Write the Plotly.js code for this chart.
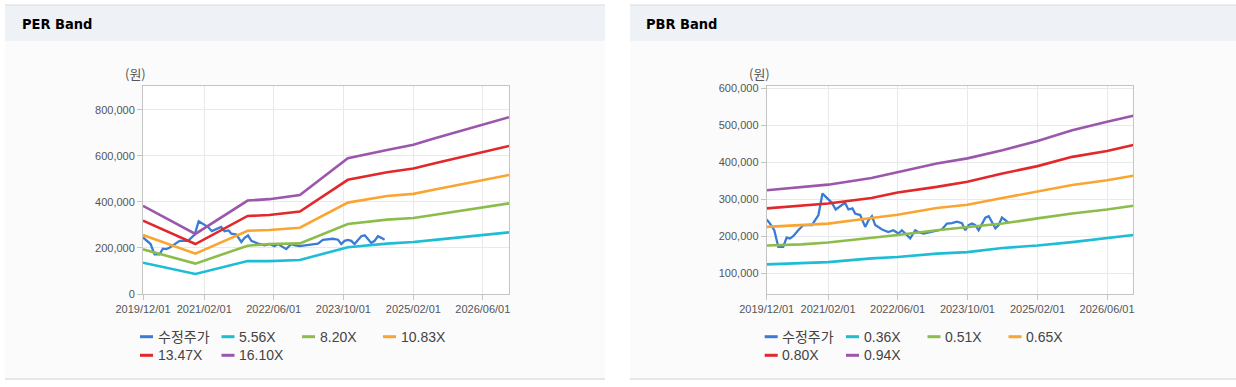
<!DOCTYPE html>
<html><head><meta charset="utf-8">
<script src="https://cdn.plot.ly/plotly-3.0.1.min.js"></script>
<style>html,body{margin:0;padding:0;background:#fff;}#chart{width:1236px;height:387px;}</style>
</head><body><div id="chart"></div>
<script>
// ---------- data ----------
const priceName = "수정주가";
const priceDates = ["2019-12-01","2019-12-24","2020-01-23","2020-02-20","2020-03-25","2020-04-18","2020-05-11","2020-06-03","2020-07-08","2020-08-13","2020-10-11","2020-11-03","2020-11-26","2020-12-24","2021-01-24","2021-02-28","2021-03-26","2021-04-26","2021-05-30","2021-06-23","2021-07-21","2021-08-09","2021-09-13","2021-10-18","2021-11-10","2021-12-04","2021-12-27","2022-02-13","2022-03-28","2022-05-02","2022-06-07","2022-07-01","2022-07-24","2022-08-28","2022-10-02","2022-10-30","2022-11-29","2023-01-04","2023-02-20","2023-04-06","2023-05-11","2023-06-15","2023-07-20","2023-08-24","2023-09-16","2023-10-09","2023-11-02","2023-11-25","2023-12-18","2024-01-11","2024-02-03","2024-02-27","2024-03-21","2024-04-13","2024-05-06","2024-05-29","2024-06-22","2024-07-15"];
const priceValues = [246000,235000,217000,172000,172000,197000,195000,201000,217000,231000,231000,244000,258000,316000,303000,291000,273000,282000,291000,273000,276000,262000,258000,226000,244000,255000,231000,219000,212000,217000,208000,217000,208000,195000,217000,211000,208000,211000,217000,219000,235000,236000,240000,236000,217000,231000,235000,231000,217000,235000,251000,255000,240000,222000,231000,251000,244000,236000];

const perDates = ["2019-12-01","2020-12-01","2021-12-01","2022-05-01","2022-12-01","2023-11-01","2024-08-01","2025-02-01","2025-07-01","2026-12-01"];
const perNames = ["5.56X","8.20X","10.83X","13.47X","16.10X"];
const per556  = [136000, 87000,143000,143000,148000,203000,219000,226000,235000,268000];
const per820  = [194000,132000,210000,217000,220000,304000,323000,330000,344000,394000];
const per1083 = [256000,175000,275000,278000,288000,397000,426000,435000,454000,517000];
const per1347 = [319000,217000,339000,343000,358000,496000,529000,545000,568000,643000];
const per1610 = [383000,261000,406000,412000,430000,590000,626000,648000,677000,768000];

const pbrDates = ["2019-12-01","2020-08-01","2021-02-01","2021-12-01","2022-06-01","2023-03-01","2023-10-01","2024-06-01","2025-02-01","2025-10-01","2026-06-01","2026-12-01"];
const pbrNames = ["0.36X","0.51X","0.65X","0.80X","0.94X"];
const pbr036 = [125000,129000,131000,141000,145000,154000,158000,169000,176000,185000,196000,204000];
const pbr051 = [176000,179000,184000,196000,204000,217000,226000,235000,249000,262000,273000,283000];
const pbr065 = [226000,231000,235000,250000,259000,277000,286000,304000,321000,339000,352000,364000];
const pbr080 = [276000,283000,289000,304000,319000,334000,348000,370000,390000,415000,431000,447000];
const pbr094 = [325000,334000,340000,358000,373000,397000,411000,433000,458000,487000,510000,526000];

const xTickVals = ["2019-12-01","2021-02-01","2022-06-01","2023-10-01","2025-02-01","2026-06-01"];
const xTickText = ["2019/12/01","2021/02/01","2022/06/01","2023/10/01","2025/02/01","2026/06/01"];
const panelTitles = ["PER Band","PBR Band"];
const unitLabel = "(원)";

// ---------- style ----------
const colors = ["#3a7bd5","#1dbdd5","#8cbd4a","#fba531","#e2282a","#9b57ab"];
const W = 1236, H = 387;
const px = x => x / W, py = y => 1 - y / H;
const FONT = "Liberation Sans, Arial, Noto Sans CJK KR, sans-serif";

const perBands = [per556, per820, per1083, per1347, per1610];
const pbrBands = [pbr036, pbr051, pbr065, pbr080, pbr094];

const traces = [];
function addPanel(xa, ya, bandDates, bands, names) {
  traces.push({x: priceDates, y: priceValues, type: "scatter", mode: "lines", name: priceName,
    xaxis: xa, yaxis: ya, line: {color: colors[0], width: 2.3}, showlegend: false});
  bands.forEach((b, i) => traces.push({x: bandDates, y: b, type: "scatter", mode: "lines", name: names[i],
    xaxis: xa, yaxis: ya, line: {color: colors[i + 1], width: 2.6}, showlegend: false}));
}
addPanel("x", "y", perDates, perBands, perNames);
addPanel("x2", "y2", pbrDates, pbrBands, pbrNames);

const plotTop = 85.7, plotBot = 294;
const panels = [
  {x0: 5, x1: 605, pl: 143, pr: 509, title: 20, unit: 135.8, leg: [140, 221.5, 302, 383], names: perNames},
  {x0: 630, x1: 1236, pl: 766.7, pr: 1133.3, title: 644, unit: 759.7, leg: [764.7, 846, 927.5, 1008.5], names: pbrNames}
];

const shapes = [], annotations = [];
panels.forEach((p, k) => {
  shapes.push({type: "rect", xref: "paper", yref: "paper", x0: px(p.x0), x1: px(p.x1), y0: py(41), y1: py(379), fillcolor: "#fbfbfc", line: {width: 0}, layer: "below"});
  shapes.push({type: "rect", xref: "paper", yref: "paper", x0: px(p.x0), x1: px(p.x1), y0: py(5), y1: py(41), fillcolor: "#eef2f7", line: {width: 0}, layer: "below"});
  shapes.push({type: "line", xref: "paper", yref: "paper", x0: px(p.x0), x1: px(p.x1), y0: py(5), y1: py(5), line: {color: "#d9d9d9", width: 1}, layer: "below"});
  shapes.push({type: "line", xref: "paper", yref: "paper", x0: px(p.x0), x1: px(p.x1), y0: py(379), y1: py(379), line: {color: "#d0d0d0", width: 1}, layer: "below"});
  shapes.push({type: "rect", xref: "paper", yref: "paper", x0: px(p.pl), x1: px(p.pr), y0: py(plotBot), y1: py(plotTop), fillcolor: "#ffffff", line: {width: 0}, layer: "below"});
  annotations.push({xref: "paper", yref: "paper", x: px(p.title), y: py(24), xanchor: "left", yanchor: "middle",
    text: "<b>" + panelTitles[k] + "</b>", showarrow: false, font: {family: "DejaVu Sans Condensed, DejaVu Sans, sans-serif", size: 14.5, color: "#000"}});
  annotations.push({xref: "paper", yref: "paper", x: px(p.unit), y: py(73.5), xanchor: "center", yanchor: "middle",
    text: unitLabel, showarrow: false, font: {family: "Noto Sans CJK KR, sans-serif", size: 13, color: "#555"}});
  const legNames = [priceName].concat(p.names);
  legNames.forEach((n, i) => {
    const row = i < 4 ? 0 : 1, col = i < 4 ? i : i - 4;
    const lx = p.leg[col], ly = row === 0 ? 336.7 : 355.3;
    shapes.push({type: "line", xref: "paper", yref: "paper", x0: px(lx), x1: px(lx + 13), y0: py(ly), y1: py(ly), line: {color: colors[i], width: 3}});
    annotations.push({xref: "paper", yref: "paper", x: px(lx + 15.5), y: py(ly), xanchor: "left", yanchor: "middle",
      text: n, showarrow: false, font: {family: FONT, size: 14, color: "#444"}});
  });
});

const axisCommon = {showline: true, mirror: true, linecolor: "#c4c4c4", linewidth: 1, showgrid: true, gridcolor: "#e9e9e9",
  ticks: "outside", ticklen: 5, tickcolor: "#c4c4c4", zeroline: false, fixedrange: true,
  tickfont: {family: FONT, size: 11, color: "#555"}};
const xCommon = Object.assign({}, axisCommon, {type: "date", range: ["2019-12-01", "2026-12-01"], tickmode: "array", tickvals: xTickVals, ticktext: xTickText});

const layout = {
  width: W, height: H, margin: {l: 0, r: 0, t: 0, b: 0, autoexpand: false},
  paper_bgcolor: "#ffffff", plot_bgcolor: "#ffffff", showlegend: false,
  xaxis: Object.assign({}, xCommon, {domain: [px(143), px(509)], anchor: "y"}),
  yaxis: Object.assign({}, axisCommon, {domain: [py(plotBot), py(plotTop)], anchor: "x", range: [0, 905000], tick0: 0, dtick: 200000, tickformat: ",d"}),
  xaxis2: Object.assign({}, xCommon, {domain: [px(766.7), px(1133.3)], anchor: "y2"}),
  yaxis2: Object.assign({}, axisCommon, {domain: [py(plotBot), py(plotTop)], anchor: "x2", range: [45000, 607000], tick0: 0, dtick: 100000, tickformat: ",d"}),
  shapes: shapes, annotations: annotations
};
Plotly.newPlot("chart", traces, layout, {staticPlot: true, displayModeBar: false});
</script></body></html>
